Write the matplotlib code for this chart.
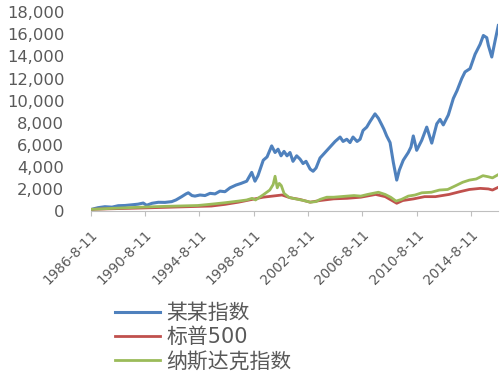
import matplotlib
matplotlib.use("Agg")
import matplotlib.pyplot as plt
from matplotlib.transforms import ScaledTranslation

plt.rcParams['font.family'] = ['DejaVu Sans', 'Noto Sans CJK SC']

#### data (decimal years, index level)

blue_years = [1986.68, 1987.15, 1987.66, 1988.18, 1988.64, 1989.14, 1989.63, 1990.10,
              1990.48, 1990.73, 1991.13, 1991.59, 1992.08, 1992.58, 1992.89, 1993.31,
              1993.63, 1993.80, 1994.07, 1994.29, 1994.66, 1995.03, 1995.40, 1995.77,
              1996.13, 1996.50, 1996.87, 1997.31, 1997.68, 1998.10, 1998.47, 1998.71,
              1998.93, 1999.32, 1999.60, 1999.94, 2000.19, 2000.41, 2000.63, 2000.85,
              2001.07, 2001.29, 2001.51, 2001.78, 2002.03, 2002.25, 2002.47, 2002.77,
              2002.99, 2003.21, 2003.50, 2003.87, 2004.24, 2004.61, 2004.98, 2005.20,
              2005.47, 2005.71, 2005.93, 2006.23, 2006.45, 2006.67, 2006.94, 2007.18,
              2007.55, 2007.80, 2008.05, 2008.21, 2008.41, 2008.66, 2008.90, 2009.15,
              2009.34, 2009.63, 2010.00, 2010.20, 2010.37, 2010.62, 2010.99, 2011.36,
              2011.73, 2012.10, 2012.34, 2012.58, 2012.95, 2013.32, 2013.59, 2013.94,
              2014.18, 2014.55, 2014.92, 2015.29, 2015.53, 2015.78, 2015.90, 2016.15,
              2016.39, 2016.63]
blue_vals = [150, 300, 390, 350, 480, 500, 560, 620,
             720, 520, 700, 790, 780, 850, 1000, 1300,
             1550, 1650, 1400, 1350, 1450, 1400, 1600, 1550,
             1800, 1750, 2100, 2350, 2500, 2700, 3500, 2700,
             3200, 4600, 4900, 5900, 5300, 5600, 5000, 5400,
             5000, 5300, 4500, 5000, 4700, 4300, 4500, 3800,
             3600, 3900, 4800, 5300, 5800, 6300, 6700, 6300,
             6500, 6200, 6700, 6300, 6500, 7300, 7600, 8100,
             8800, 8400, 7800, 7400, 6800, 6200, 4400, 2800,
             3700, 4600, 5300, 5800, 6800, 5500, 6400, 7600,
             6150, 7900, 8300, 7800, 8700, 10200, 10900, 12000,
             12600, 12900, 14200, 15100, 15900, 15700, 15000, 13950,
             15400, 16800]

sp_years = [1986.68, 1988.0, 1990.0, 1992.0, 1994.0, 1995.5, 1996.5, 1997.5,
            1998.5, 1999.3, 2000.0, 2000.7, 2001.3, 2002.0, 2002.77, 2003.5,
            2004.5, 2005.5, 2006.5, 2007.6, 2008.3, 2008.8, 2009.15, 2009.6,
            2010.4, 2011.2, 2012.0, 2013.0, 2013.8, 2014.5, 2015.3, 2015.9,
            2016.2, 2016.63]
sp_vals = [150, 200, 260, 330, 400, 450, 600, 800,
           1050, 1250, 1350, 1450, 1200, 1050, 800, 950,
           1100, 1150, 1250, 1500, 1300, 950, 700, 950,
           1100, 1300, 1300, 1500, 1750, 1950, 2050, 2000,
           1900, 2150]

nq_years = [1986.68, 1988.0, 1990.0, 1991.5, 1993.0, 1994.5, 1995.5, 1996.5,
            1997.5, 1998.1, 1998.5, 1998.75, 1999.3, 1999.8, 2000.05, 2000.19,
            2000.35, 2000.5, 2000.65, 2000.85, 2001.2, 2001.5, 2001.9, 2002.3,
            2002.77, 2003.2, 2003.5, 2004.0, 2004.5, 2005.0, 2005.5, 2006.0,
            2006.5, 2007.0, 2007.8, 2008.3, 2008.7, 2009.1, 2009.5, 2010.0,
            2010.5, 2011.0, 2011.7, 2012.3, 2012.9, 2013.5, 2014.0, 2014.5,
            2015.0, 2015.5, 2015.9, 2016.2, 2016.63]
nq_vals = [150, 230, 330, 400, 450, 500, 620, 750,
           900, 1000, 1150, 1000, 1450, 1900, 2400, 3150,
           2100, 2500, 2300, 1600, 1250, 1150, 1050, 950,
           800, 850, 1050, 1250, 1250, 1300, 1350, 1400,
           1350, 1500, 1700, 1500, 1250, 900, 1050, 1350,
           1450, 1650, 1700, 1900, 1950, 2300, 2600, 2800,
           2900, 3200, 3100, 3000, 3300]

series_names = ['某某指数', '标普500', '纳斯达克指数']
tick_years = [1986.61, 1990.61, 1994.61, 1998.61, 2002.61, 2006.61, 2010.61, 2014.61]
tick_labels = ['1986-8-11', '1990-8-11', '1994-8-11', '1998-8-11',
               '2002-8-11', '2006-8-11', '2010-8-11', '2014-8-11']
y_ticks = list(range(0, 18001, 2000))

####

fig = plt.figure(figsize=(5.01, 3.73), dpi=100)
ax = fig.add_axes([0.181, 0.4343, 0.8136, 0.5327])

l1, = ax.plot(blue_years, blue_vals, color='#4F81BD', lw=2.2, solid_joinstyle='round')
l2, = ax.plot(sp_years, sp_vals, color='#C0504D', lw=2.0, solid_joinstyle='round')
l3, = ax.plot(nq_years, nq_vals, color='#9BBB59', lw=2.0, solid_joinstyle='round')

ax.set_xlim(1986.61, 2016.63)
ax.set_ylim(0, 18000)
ax.set_yticks(y_ticks)
ax.set_yticklabels([f"{v:,}" for v in y_ticks])
ax.set_xticks(tick_years)
ax.set_xticklabels(tick_labels, rotation=45, ha='right', va='top',
                   rotation_mode='anchor')
shift = ScaledTranslation(4 / 72, 0, fig.dpi_scale_trans)
for lab in ax.get_xticklabels():
    lab.set_transform(lab.get_transform() + shift)

for side in ['top', 'right', 'left']:
    ax.spines[side].set_visible(False)
ax.spines['bottom'].set_color('#BFBFBF')
ax.tick_params(axis='y', length=0, pad=19, labelsize=11.8, labelcolor='#595959')
ax.tick_params(axis='x', length=3.6, color='#BFBFBF', pad=8.5, labelsize=9.8,
               labelcolor='#595959')

fig.legend([l1, l2, l3], series_names, loc='upper left',
           bbox_to_anchor=(115 / 501, 1 - 303 / 373), frameon=False,
           prop={'family': ['DejaVu Sans', 'Noto Sans CJK SC'], 'size': 15},
           labelcolor='#595959', handlelength=2.15, handletextpad=0.3,
           labelspacing=0.2, borderpad=0, borderaxespad=0)

fig.savefig('out.png', dpi=100)
